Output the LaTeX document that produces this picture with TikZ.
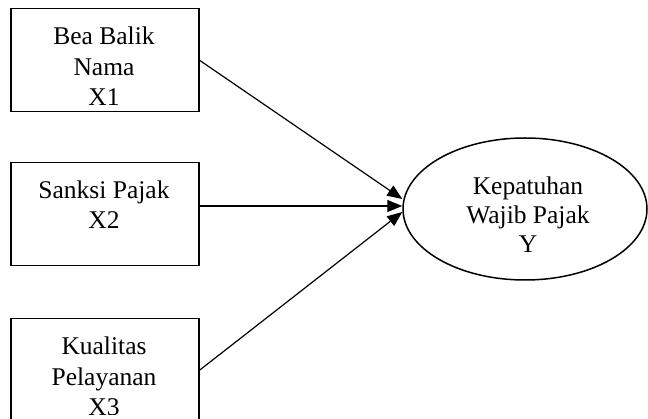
\documentclass[tikz,border=0pt]{standalone}
\usepackage{fontspec}
\setmainfont{Liberation Serif}
\usetikzlibrary{arrows.meta,shapes.geometric,calc}
\begin{document}
\begin{tikzpicture}[x=1pt,y=-1pt,
  box/.style={draw,line width=1.5pt,minimum width=188pt,minimum height=103pt,inner sep=0pt,anchor=north west},
  txt/.style={align=center,inner sep=0pt,anchor=base,font=\fontsize{25.5}{30.5}\selectfont},
  etxt/.style={align=center,inner sep=0pt,anchor=base,font=\fontsize{25.5}{29}\selectfont},
  arr/.style={line width=1.2pt,-{Triangle[length=15pt,width=12pt]}}]
\useasboundingbox (0,0) rectangle (648,419);
\node[box] (b1) at (10,8) {};
\node[box] (b2) at (10,162) {};
\node[box] (b3) at (10,318) {};
\node[draw,ellipse,line width=1.5pt,minimum width=244pt,minimum height=142pt,inner sep=0pt] (e) at (525,209) {};
\begin{scope}
\clip (b1.north west) rectangle ($(b1.south east)+(0,-8)$);
\node[txt] (t1) at (104,106) {Bea Balik\\Nama\\X1};
\end{scope}
\begin{scope}
\clip (b2.north west) rectangle ($(b2.south east)+(0,-8)$);
\node[txt] (t2) at (104,229) {Sanksi Pajak\\X2};
\end{scope}
\begin{scope}
\clip (b3.north west) rectangle ($(b3.south east)+(0,-8)$);
\node[txt] (t3) at (104,416) {Kualitas\\Pelayanan\\X3};
\end{scope}
\node[etxt] (ty) at (528,253) {Kepatuhan\\Wajib Pajak\\Y};
\coordinate (p1) at ($(e.west)+(0,-10)$);
\coordinate (p2) at ($(e.west)+(0,-3)$);
\coordinate (p3) at ($(e.west)+(0,3)$);
\coordinate (s2) at (b2.east |- p2);
\draw[arr] (b1.east) -- (p1);
\draw[arr] (s2) -- (p2);
\draw[arr] (b3.east) -- (p3);
\end{tikzpicture}
\end{document}
